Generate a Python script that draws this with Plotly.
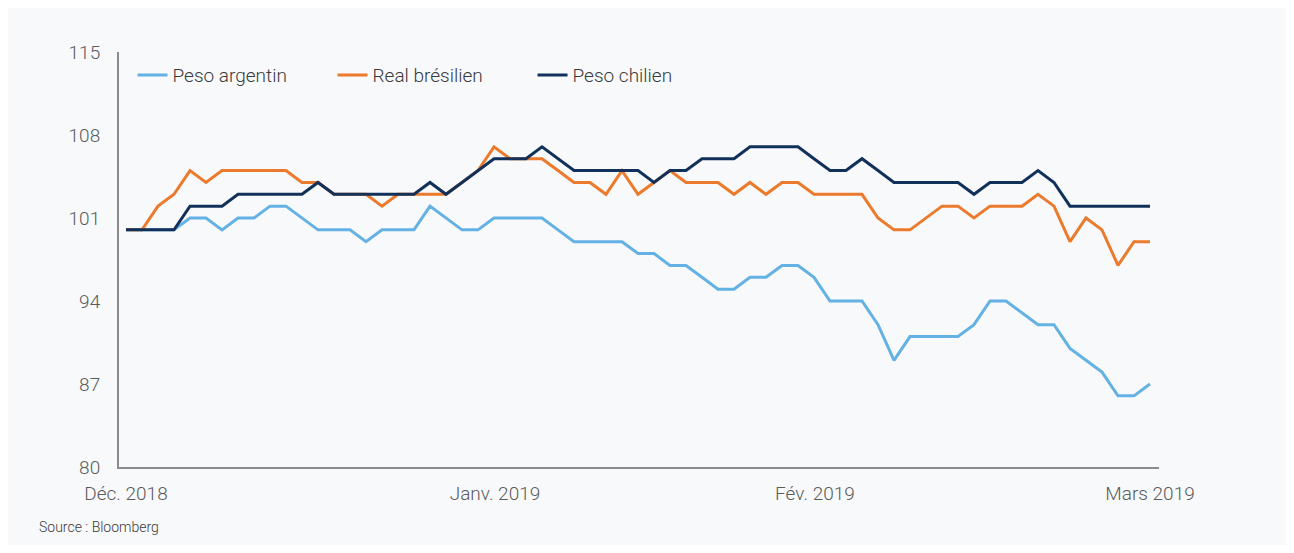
import plotly.graph_objects as go

# ---- data (index, base 100; business days Dec 2018 - Mar 2019) ----
peso_argentin = [100, 100, 100, 100, 101, 101, 100, 101, 101, 102, 102, 101, 100, 100, 100, 99,
                 100, 100, 100, 102, 101, 100, 100, 101, 101, 101, 101, 100, 99, 99, 99, 99,
                 98, 98, 97, 97, 96, 95, 95, 96, 96, 97, 97, 96, 94, 94, 94, 92,
                 89, 91, 91, 91, 91, 92, 94, 94, 93, 92, 92, 90, 89, 88, 86, 86, 87]
real_bresilien = [100, 100, 102, 103, 105, 104, 105, 105, 105, 105, 105, 104, 104, 103, 103, 103,
                  102, 103, 103, 103, 103, 104, 105, 107, 106, 106, 106, 105, 104, 104, 103, 105,
                  103, 104, 105, 104, 104, 104, 103, 104, 103, 104, 104, 103, 103, 103, 103, 101,
                  100, 100, 101, 102, 102, 101, 102, 102, 102, 103, 102, 99, 101, 100, 97, 99, 99]
peso_chilien = [100, 100, 100, 100, 102, 102, 102, 103, 103, 103, 103, 103, 104, 103, 103, 103,
                103, 103, 103, 104, 103, 104, 105, 106, 106, 106, 107, 106, 105, 105, 105, 105,
                105, 104, 105, 105, 106, 106, 106, 107, 107, 107, 107, 106, 105, 105, 106, 105,
                104, 104, 104, 104, 104, 103, 104, 104, 104, 105, 104, 102, 102, 102, 102, 102, 102]
x_index = list(range(len(peso_argentin)))

x_tick_vals = [0, 23.06, 43.06, 64]
x_tick_text = ["Déc. 2018", "Janv. 2019", "Fév. 2019", "Mars 2019"]
y_tick_vals = [80, 87, 94, 101, 108, 115]

series_names = ["Peso argentin", "Real brésilien", "Peso chilien"]
series_colors = ["#64b1e3", "#ec7a2c", "#11305a"]
series_values = [peso_argentin, real_bresilien, peso_chilien]

FONT = "Roboto, Lato, sans-serif"

fig = go.Figure()
for name, color, vals in zip(series_names, series_colors, series_values):
    fig.add_trace(go.Scatter(
        x=x_index, y=vals, mode="lines", name=name,
        line=dict(color=color, width=3),
    ))

fig.add_annotation(text="Source : Bloomberg", xref="paper", yref="paper",
                   x=-0.0788, y=-0.1446, xanchor="left", yanchor="middle",
                   showarrow=False,
                   font=dict(family=FONT, size=14, color="#3a3a3a", weight=300))

fig.update_layout(
    width=1278, height=537,
    margin=dict(l=111, r=127, t=44, b=78),
    paper_bgcolor="#f8f9fb",
    plot_bgcolor="rgba(0,0,0,0)",
    font=dict(family=FONT, size=19, color="#5a5a5a", weight=300),
    showlegend=True,
    legend=dict(orientation="h", x=0.013, y=0.99, xanchor="left", yanchor="top",
                bgcolor="rgba(0,0,0,0)",
                font=dict(family=FONT, size=19, color="#3a3a3a", weight=300),
                entrywidth=155, itemwidth=30),
    xaxis=dict(range=[-0.4375, 64.5625], showgrid=False, zeroline=False,
               showline=True, linecolor="#8c8c8c", linewidth=2,
               tickmode="array", tickvals=x_tick_vals, ticktext=x_tick_text,
               ticks="outside", ticklen=8, tickcolor="rgba(0,0,0,0)",
               tickfont=dict(family=FONT, size=19, color="#5a5a5a", weight=300)),
    yaxis=dict(range=[80, 115], showgrid=False, zeroline=False,
               showline=True, linecolor="#8c8c8c", linewidth=2,
               tickmode="array", tickvals=y_tick_vals,
               ticks="outside", ticklen=13, tickcolor="rgba(0,0,0,0)",
               tickfont=dict(family=FONT, size=19, color="#5a5a5a", weight=300)),
)

fig.write_html("out.html")
